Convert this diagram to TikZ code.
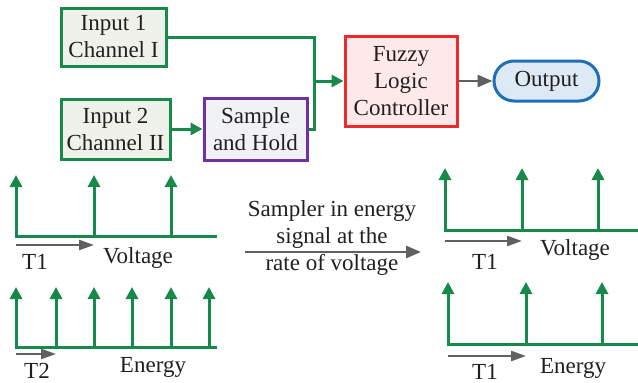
\documentclass[tikz,border=0pt]{standalone}
\usepackage{fontspec}
\setmainfont{Liberation Serif}
\usetikzlibrary{arrows.meta}
\definecolor{gr}{HTML}{17894A}
\definecolor{txt}{HTML}{231F20}
\definecolor{inbg}{HTML}{EEF2EA}
\definecolor{shbg}{HTML}{F1F2F5}
\definecolor{pur}{HTML}{7030A0}
\definecolor{flcred}{HTML}{EE2A2A}
\definecolor{flcbg}{HTML}{FDE9E9}
\definecolor{outbl}{HTML}{1F6FB8}
\definecolor{outbg}{HTML}{DDEAF6}
\definecolor{gry}{HTML}{606060}
\begin{document}
\begin{tikzpicture}[x=1pt,y=-1pt,
  font=\rmfamily\fontsize{23}{27}\selectfont,
  every node/.style={text=txt},
  box/.style={draw, line width=3pt, inner sep=0pt, align=center},
  gline/.style={draw=gr, line width=3pt},
  garrow/.style={gline, -{Triangle[length=12pt,width=12pt]}},
  sptip/.style={gline, {Triangle[length=12pt,width=12pt]}-},
  spike/.style={gline, -{Triangle[length=12pt,width=12pt]}},
  greyarrow/.style={draw=gry, line width=2.8pt, -{Triangle[length=15pt,width=12pt]}},
  tarrow/.style={draw=gry, line width=2.5pt, -{Triangle[length=15pt,width=10pt]}},
  lbl/.style={inner sep=0pt, anchor=center}
]
\useasboundingbox[fill=white] (0,0) rectangle (638,383);

% block diagram
\node[box, draw=gr, fill=inbg, minimum width=105pt, minimum height=58pt] (in1) at (113.5,37) {Input 1\\Channel I};
\node[box, draw=gr, fill=inbg, minimum width=109pt, minimum height=60pt] (in2) at (115.5,129) {Input 2\\Channel II};
\node[box, draw=pur, fill=shbg, minimum width=103pt, minimum height=62pt] (sh) at (255.5,129) {Sample\\and Hold};
\node[box, draw=flcred, fill=flcbg, minimum width=112pt, minimum height=90pt] (flc) at (401,81) {Fuzzy\\Logic\\Controller};
\node[box, draw=outbl, fill=outbg, minimum width=105pt, minimum height=40pt, rounded corners=20pt] (out) at (546.5,81) {Output};
\coordinate (jn) at (314,81);

\draw[garrow] (in2.east) -- (sh.west);
\draw[gline] (in1.east) -| (jn);
\draw[gline] (sh.east) -| (jn);
\draw[garrow] (jn) -- (flc.west);
\draw[greyarrow] (flc.east) -- (out.west);

% left voltage plot
\draw[sptip] (16,175) |- (217,236);
\foreach \x in {94,171} \draw[spike] (\x,236) -- (\x,175);
\coordinate (lvT1a) at (16,245); \coordinate (lvT1b) at (94,245);
\draw[tarrow] (lvT1a) -- (lvT1b);
\node[lbl] (lvt) at (35,262) {T1};
\node[lbl] (lvv) at (138,258) {Voltage};

% left energy plot
\draw[sptip] (16,287) |- (217,347);
\foreach \x in {56,94,132,171,209} \draw[spike] (\x,347) -- (\x,287);
\coordinate (leT2a) at (16,354); \coordinate (leT2b) at (56,354);
\draw[tarrow] (leT2a) -- (leT2b);
\node[lbl] (let) at (37,371) {T2};
\node[lbl] (lee) at (153,367) {Energy};

% middle text and arrow
\node[lbl, align=center] (samp) at (332,238) {Sampler in energy\\signal at the\\rate of voltage};
\coordinate (ma) at (245,252); \coordinate (mb) at (421,252);
\draw[greyarrow] (ma) -- (mb);

% right voltage plot
\draw[sptip] (445,168) |- (640,230);
\foreach \x in {522,598} \draw[spike] (\x,230) -- (\x,168);
\coordinate (rvT1a) at (445,241); \coordinate (rvT1b) at (522,241);
\draw[tarrow] (rvT1a) -- (rvT1b);
\node[lbl] (rvt) at (485,262) {T1};
\node[lbl] (rvv) at (575,250) {Voltage};

% right energy plot
\draw[sptip] (448,282) |- (640,344);
\foreach \x in {526,602} \draw[spike] (\x,344) -- (\x,282);
\coordinate (reT1a) at (448,356); \coordinate (reT1b) at (526,356);
\draw[tarrow] (reT1a) -- (reT1b);
\node[lbl] (ret) at (485,372) {T1};
\node[lbl] (ree) at (573,368) {Energy};
\end{tikzpicture}
\end{document}
